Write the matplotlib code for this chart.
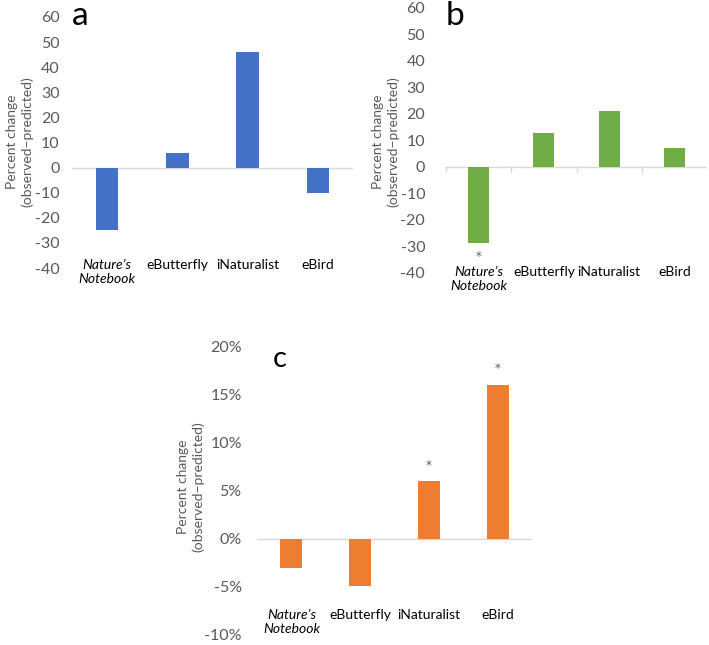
import matplotlib
matplotlib.use('Agg')
import matplotlib.pyplot as plt
from matplotlib.ticker import PercentFormatter

plt.rcParams['font.family'] = ['Lato', 'DejaVu Sans']
plt.rcParams['axes.unicode_minus'] = False

categories = ['Nature’s\nNotebook', 'eButterfly', 'iNaturalist', 'eBird']
values_a = [-25, 6, 46, -10]
values_b = [-28.7, 13, 21, 7]
values_c = [-3, -4.9, 6, 16]
stars_b = [-33.7, None, None, None]
stars_c = [None, None, 7.7, 17.8]

W, H = 709, 645
fig = plt.figure(figsize=(W / 100, H / 100), dpi=100)
txt = '#595959'


def box(x0, x1, y0, y1):
    # pixel box (from top-left) -> figure coords
    return [x0 / W, (H - y1) / H, (x1 - x0) / W, (y1 - y0) / H]


def panel(rect, vals, color, ylim, step, lab_y, pad, letter, letter_xy, letter_size,
          ylab_xy, ticks=False, pct=False, stars=None):
    ax = fig.add_axes(box(*rect))
    x = range(len(vals))
    ax.bar(x, vals, width=0.32, color=color, zorder=2)
    ax.axhline(0, color='#D9D9D9', lw=1, zorder=1)
    ax.set_xlim(-0.5, len(vals) - 0.5)
    ax.set_ylim(*ylim)
    ax.set_yticks(range(ylim[0], ylim[1] + 1, step))
    if pct:
        ax.yaxis.set_major_formatter(PercentFormatter(decimals=0))
    ax.tick_params(axis='y', length=0, pad=pad, labelsize=11.5, labelcolor=txt)
    ax.set_xticks([])
    for s in ax.spines.values():
        s.set_visible(False)
    if ticks:
        for b in [-0.5, 0.5, 1.5, 2.5]:
            ax.plot([b, b], [0, -(ylim[1] - ylim[0]) * 0.02], color='#D9D9D9', lw=1,
                    clip_on=False)
    for i, c in enumerate(categories):
        ax.text(i, lab_y, c, ha='center', va='top', fontsize=10, color='black',
                style='italic' if i == 0 else 'normal', linespacing=1.2,
                clip_on=False)
    if stars:
        for i, s in enumerate(stars):
            if s is not None:
                ax.text(i, s, '*', ha='center', va='center', fontsize=8.5,
                        color=txt, family='DejaVu Sans')
    fig.text(letter_xy[0] / W, 1 - letter_xy[1] / H, letter, fontsize=letter_size,
             ha='left', va='baseline', color='black')
    fig.text(ylab_xy[0] / W, 1 - ylab_xy[1] / H,
             'Percent change\n(observed\u2212predicted)', rotation=90,
             ha='center', va='center', multialignment='center', fontsize=10,
             color=txt, linespacing=1.3)
    return ax


panel((72, 353, 17, 268), values_a, '#4472C4', (-40, 60), 10, -36.5, 9,
      'a', (72, 25), 24, (20, 142))
panel((446, 707, 8, 273), values_b, '#70AD47', (-40, 60), 10, -37.5, 15,
      'b', (446, 25), 24, (386, 142), ticks=True, stars=stars_b)
panel((257, 532, 347, 635), values_c, '#ED7D31', (-10, 20), 5, -7.3, 11,
      'c', (273, 367), 21, (191, 487), pct=True, stars=stars_c)

fig.savefig('out.png', dpi=100)
